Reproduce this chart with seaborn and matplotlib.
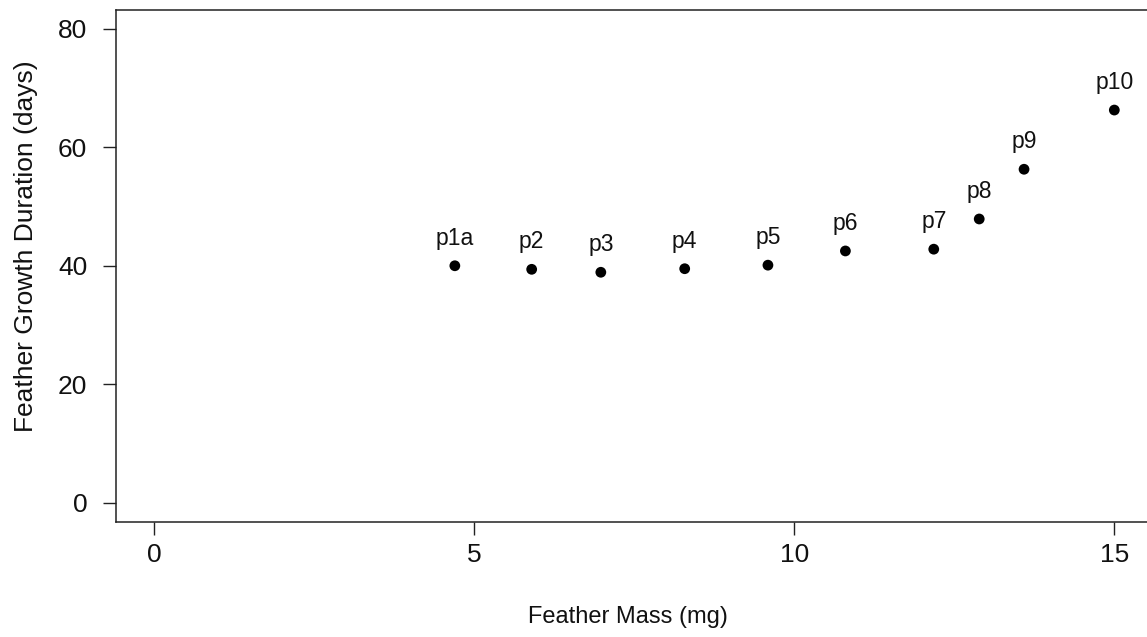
import matplotlib
matplotlib.use("Agg")
import matplotlib.pyplot as plt
import seaborn as sns
import pandas as pd

# Primary feathers: mass vs. growth duration
feathers = ["p1a", "p2", "p3", "p4", "p5", "p6", "p7", "p8", "p9", "p10"]
mass_mg = [4.70, 5.90, 6.98, 8.29, 9.59, 10.80, 12.18, 12.89, 13.59, 15.00]
duration_days = [40.0, 39.4, 38.9, 39.5, 40.1, 42.5, 42.8, 47.9, 56.3, 66.3]

x_ticks = [0, 5, 10, 15]
y_ticks = [0, 20, 40, 60, 80]

df = pd.DataFrame({"feather": feathers, "mass": mass_mg, "duration": duration_days})

sns.set_style("white")
plt.rcParams["font.family"] = ["Liberation Sans", "DejaVu Sans"]

fig = plt.figure(figsize=(11.47, 6.37), dpi=100)
ax = fig.add_axes([0.1007, 0.1813, 0.9043, 0.8030])

sns.scatterplot(data=df, x="mass", y="duration", ax=ax, color="black",
                s=60, edgecolor="none", linewidth=0, legend=False)

for name, xv, yv in zip(df["feather"], df["mass"], df["duration"]):
    ax.annotate(name, (xv, yv), xytext=(0, 21), textcoords="offset pixels",
                ha="center", va="baseline", fontsize=16.5, color="#111111")

ax.set_xlim(-0.6, 15.6)
ax.set_ylim(-3.2, 83.2)
ax.set_xticks(x_ticks)
ax.set_yticks(y_ticks)
ax.set_xticklabels([str(v) for v in x_ticks])
ax.set_yticklabels([str(v) for v in y_ticks])

for side in ["left", "right", "top", "bottom"]:
    ax.spines[side].set_visible(True)
    ax.spines[side].set_color("#222222")
    ax.spines[side].set_linewidth(1.1)

ax.tick_params(axis="both", which="major", bottom=True, left=True,
               direction="out", length=9.4, width=1.0,
               color="#222222", labelsize=19, labelcolor="#111111")
ax.tick_params(axis="x", pad=6.0)
ax.tick_params(axis="y", pad=11.0)

ax.set_xlabel("Feather Mass (mg)", fontsize=17, color="#111111")
ax.xaxis.set_label_coords(0.494, -0.165)
ax.set_ylabel("Feather Growth Duration (days)", fontsize=19, color="#111111")
ax.yaxis.set_label_coords(-0.0752, 0.5386)

fig.savefig("out.png", dpi=100, facecolor="white")
